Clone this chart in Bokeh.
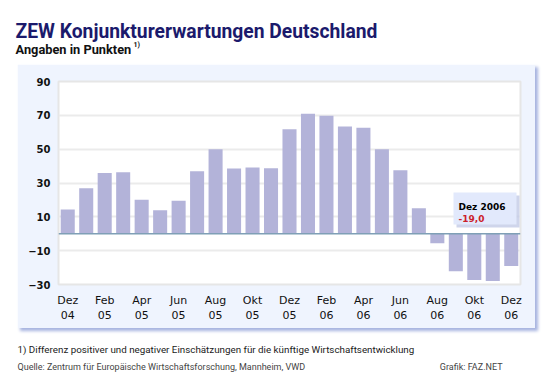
from bokeh.plotting import figure
from bokeh.models import Range1d, FixedTicker, Label, BoxAnnotation, Span, ColumnDataSource, Spacer
from bokeh.layouts import column, row
from bokeh.embed import file_html
from bokeh.resources import INLINE

# ---- data ----
months = ["Dez 04", "Jan 05", "Feb 05", "Mär 05", "Apr 05", "Mai 05", "Jun 05", "Jul 05",
          "Aug 05", "Sep 05", "Okt 05", "Nov 05", "Dez 05", "Jan 06", "Feb 06", "Mär 06",
          "Apr 06", "Mai 06", "Jun 06", "Jul 06", "Aug 06", "Sep 06", "Okt 06", "Nov 06", "Dez 06"]
values = [14.4, 26.9, 35.9, 36.3, 20.1, 13.9, 19.5, 37.0, 50.0, 38.6, 39.2, 38.7, 61.7,
          71.0, 69.8, 63.4, 62.7, 50.0, 37.5, 15.1, -5.6, -22.2, -27.4, -28.0, -19.0]
x_tick_labels = ["Dez\n04", "Feb\n05", "Apr\n05", "Jun\n05", "Aug\n05", "Okt\n05", "Dez\n05",
                 "Feb\n06", "Apr\n06", "Jun\n06", "Aug\n06", "Okt\n06", "Dez\n06"]
y_ticks = [-30, -10, 10, 30, 50, 70, 90]
highlight_label = "Dez 2006"
highlight_value = "-19,0"

title_text = "ZEW Konjunkturerwartungen Deutschland"
subtitle_text = "Angaben in Punkten"
footnote_text = "1) Differenz positiver und negativer Einschätzungen für die künftige Wirtschaftsentwicklung"
source_text = "Quelle: Zentrum für Europäische Wirtschaftsforschung, Mannheim, VWD"
credit_text = "Grafik: FAZ.NET"

# ---- styles / layout ----
OUTER = "#e1e9fb"
PANEL = "#eff4fe"
BAR = "#b3b3d9"
NAVY = "#1b1a6c"
PW, PH = 559, 379
PANEL_L, PANEL_R, PANEL_T, PANEL_B = 17, 535, 64, 328
FRAME_L, FRAME_R, FRAME_T, FRAME_B = 58, 520, 81, 284


def text_figure(y0, y1):
    f = figure(width=PW, height=y1 - y0, x_range=Range1d(0, PW), y_range=Range1d(y1, y0),
               output_backend="svg", toolbar_location=None, title=None,
               x_axis_location=None, y_axis_location=None,
               min_border_left=0, min_border_right=0, min_border_top=0, min_border_bottom=0)
    f.grid.visible = False
    f.outline_line_color = None
    f.border_fill_color = None
    f.background_fill_color = None
    return f


# ---- header ----
head = text_figure(0, PANEL_T)
head.add_layout(Label(x=15, y=31, text=title_text, text_font="Roboto", text_font_style="bold",
                      text_font_size="19.3px", text_color=NAVY, text_baseline="alphabetic"))
head.add_layout(Label(x=15, y=49, text=subtitle_text, text_font="Roboto", text_font_style="bold",
                      text_font_size="12.8px", text_color="#111111", text_baseline="alphabetic"))
head.add_layout(Label(x=133, y=44, text="1)", text_font="Roboto", text_font_style="bold",
                      text_font_size="7px", text_color="#111111", text_baseline="alphabetic"))

# ---- chart ----
idx = list(range(len(months)))
src = ColumnDataSource(dict(x=idx, top=values, month=months))

cw, ch = PANEL_R - PANEL_L, PANEL_B - PANEL_T
p = figure(width=cw, height=ch, output_backend="svg", toolbar_location=None, title=None,
           x_range=Range1d(-0.5, len(months) - 0.5), y_range=Range1d(-30, 90),
           min_border_left=FRAME_L - PANEL_L, min_border_right=PANEL_R - FRAME_R,
           min_border_top=FRAME_T - PANEL_T, min_border_bottom=PANEL_B - FRAME_B,
           styles={"box-shadow": "3px 3px 3px #a7b4e0"})
p.border_fill_color = PANEL
p.background_fill_color = "white"
p.outline_line_color = "#e6e6e6"
p.outline_line_width = 2

p.vbar(x="x", top="top", bottom=0, width=0.76, source=src, fill_color=BAR, line_color=None)
p.add_layout(Span(location=0, dimension="width", line_color="#7f9fb6", line_width=1.5))

p.xaxis.ticker = FixedTicker(ticks=idx[::2])
p.xaxis.major_label_overrides = {i: lab for i, lab in zip(idx[::2], x_tick_labels)}
p.yaxis.ticker = FixedTicker(ticks=y_ticks)
for ax in (p.xaxis, p.yaxis):
    ax.axis_line_color = None
    ax.major_tick_line_color = None
    ax.minor_tick_line_color = None
    ax.major_tick_out = 0
    ax.major_tick_in = 0
    ax.major_label_text_color = "#111111"
    ax.major_label_text_font = "DejaVu Sans"
p.xaxis.major_label_text_font_size = "11px"
p.xaxis.major_label_standoff = 9
p.yaxis.major_label_text_font_size = "10px"
p.yaxis.major_label_text_font_style = "bold"
p.yaxis.major_label_standoff = 8

p.xgrid.grid_line_color = None
p.ygrid.ticker = FixedTicker(ticks=y_ticks)
p.ygrid.grid_line_color = "#ebebeb"
p.ygrid.grid_line_width = 2


def fx(px):  # page x -> frame screen x
    return px - FRAME_L


def fy(py):  # page y -> frame screen y (upward from frame bottom)
    return FRAME_B - py


box_kw = dict(left_units="screen", right_units="screen", top_units="screen", bottom_units="screen", line_alpha=0)
p.add_layout(BoxAnnotation(left=fx(456), right=fx(519), top=fy(195), bottom=fy(227),
                           fill_color="#c3cae6", fill_alpha=0.8, **box_kw))
p.add_layout(BoxAnnotation(left=fx(453), right=fx(516), top=fy(192), bottom=fy(224),
                           fill_color="#e2e9fc", fill_alpha=1, **box_kw))
p.add_layout(Label(x=fx(458), y=fy(206), x_units="screen", y_units="screen", text=highlight_label,
                   text_font="DejaVu Sans", text_font_style="bold", text_font_size="9px",
                   text_color="#000000", text_baseline="alphabetic"))
p.add_layout(Label(x=fx(458), y=fy(218), x_units="screen", y_units="screen", text=highlight_value,
                   text_font="DejaVu Sans", text_font_style="bold", text_font_size="9px",
                   text_color="#cc1f2b", text_baseline="alphabetic"))

# ---- footer ----
foot = text_figure(PANEL_B, PH)
foot.add_layout(Label(x=17, y=349, text=footnote_text, text_font="Roboto", text_font_size="9.8px",
                      text_color="#1a1a1a", text_baseline="alphabetic"))
foot.add_layout(Label(x=17, y=366, text=source_text, text_font="Roboto", text_font_size="9px",
                      text_color="#444444", text_baseline="alphabetic"))
foot.add_layout(Label(x=502, y=366, text=credit_text, text_font="Roboto", text_font_size="9px",
                      text_align="right", text_color="#444444", text_baseline="alphabetic"))

layout = column(head,
                row(Spacer(width=PANEL_L, height=ch), p, Spacer(width=PW - PANEL_R, height=ch)),
                foot)

html = file_html(layout, INLINE, title="ZEW Konjunkturerwartungen")
html = html.replace("<body>", '<body style="margin:0;background-color:%s;">' % OUTER, 1)
open("out.html", "w").write(html)
